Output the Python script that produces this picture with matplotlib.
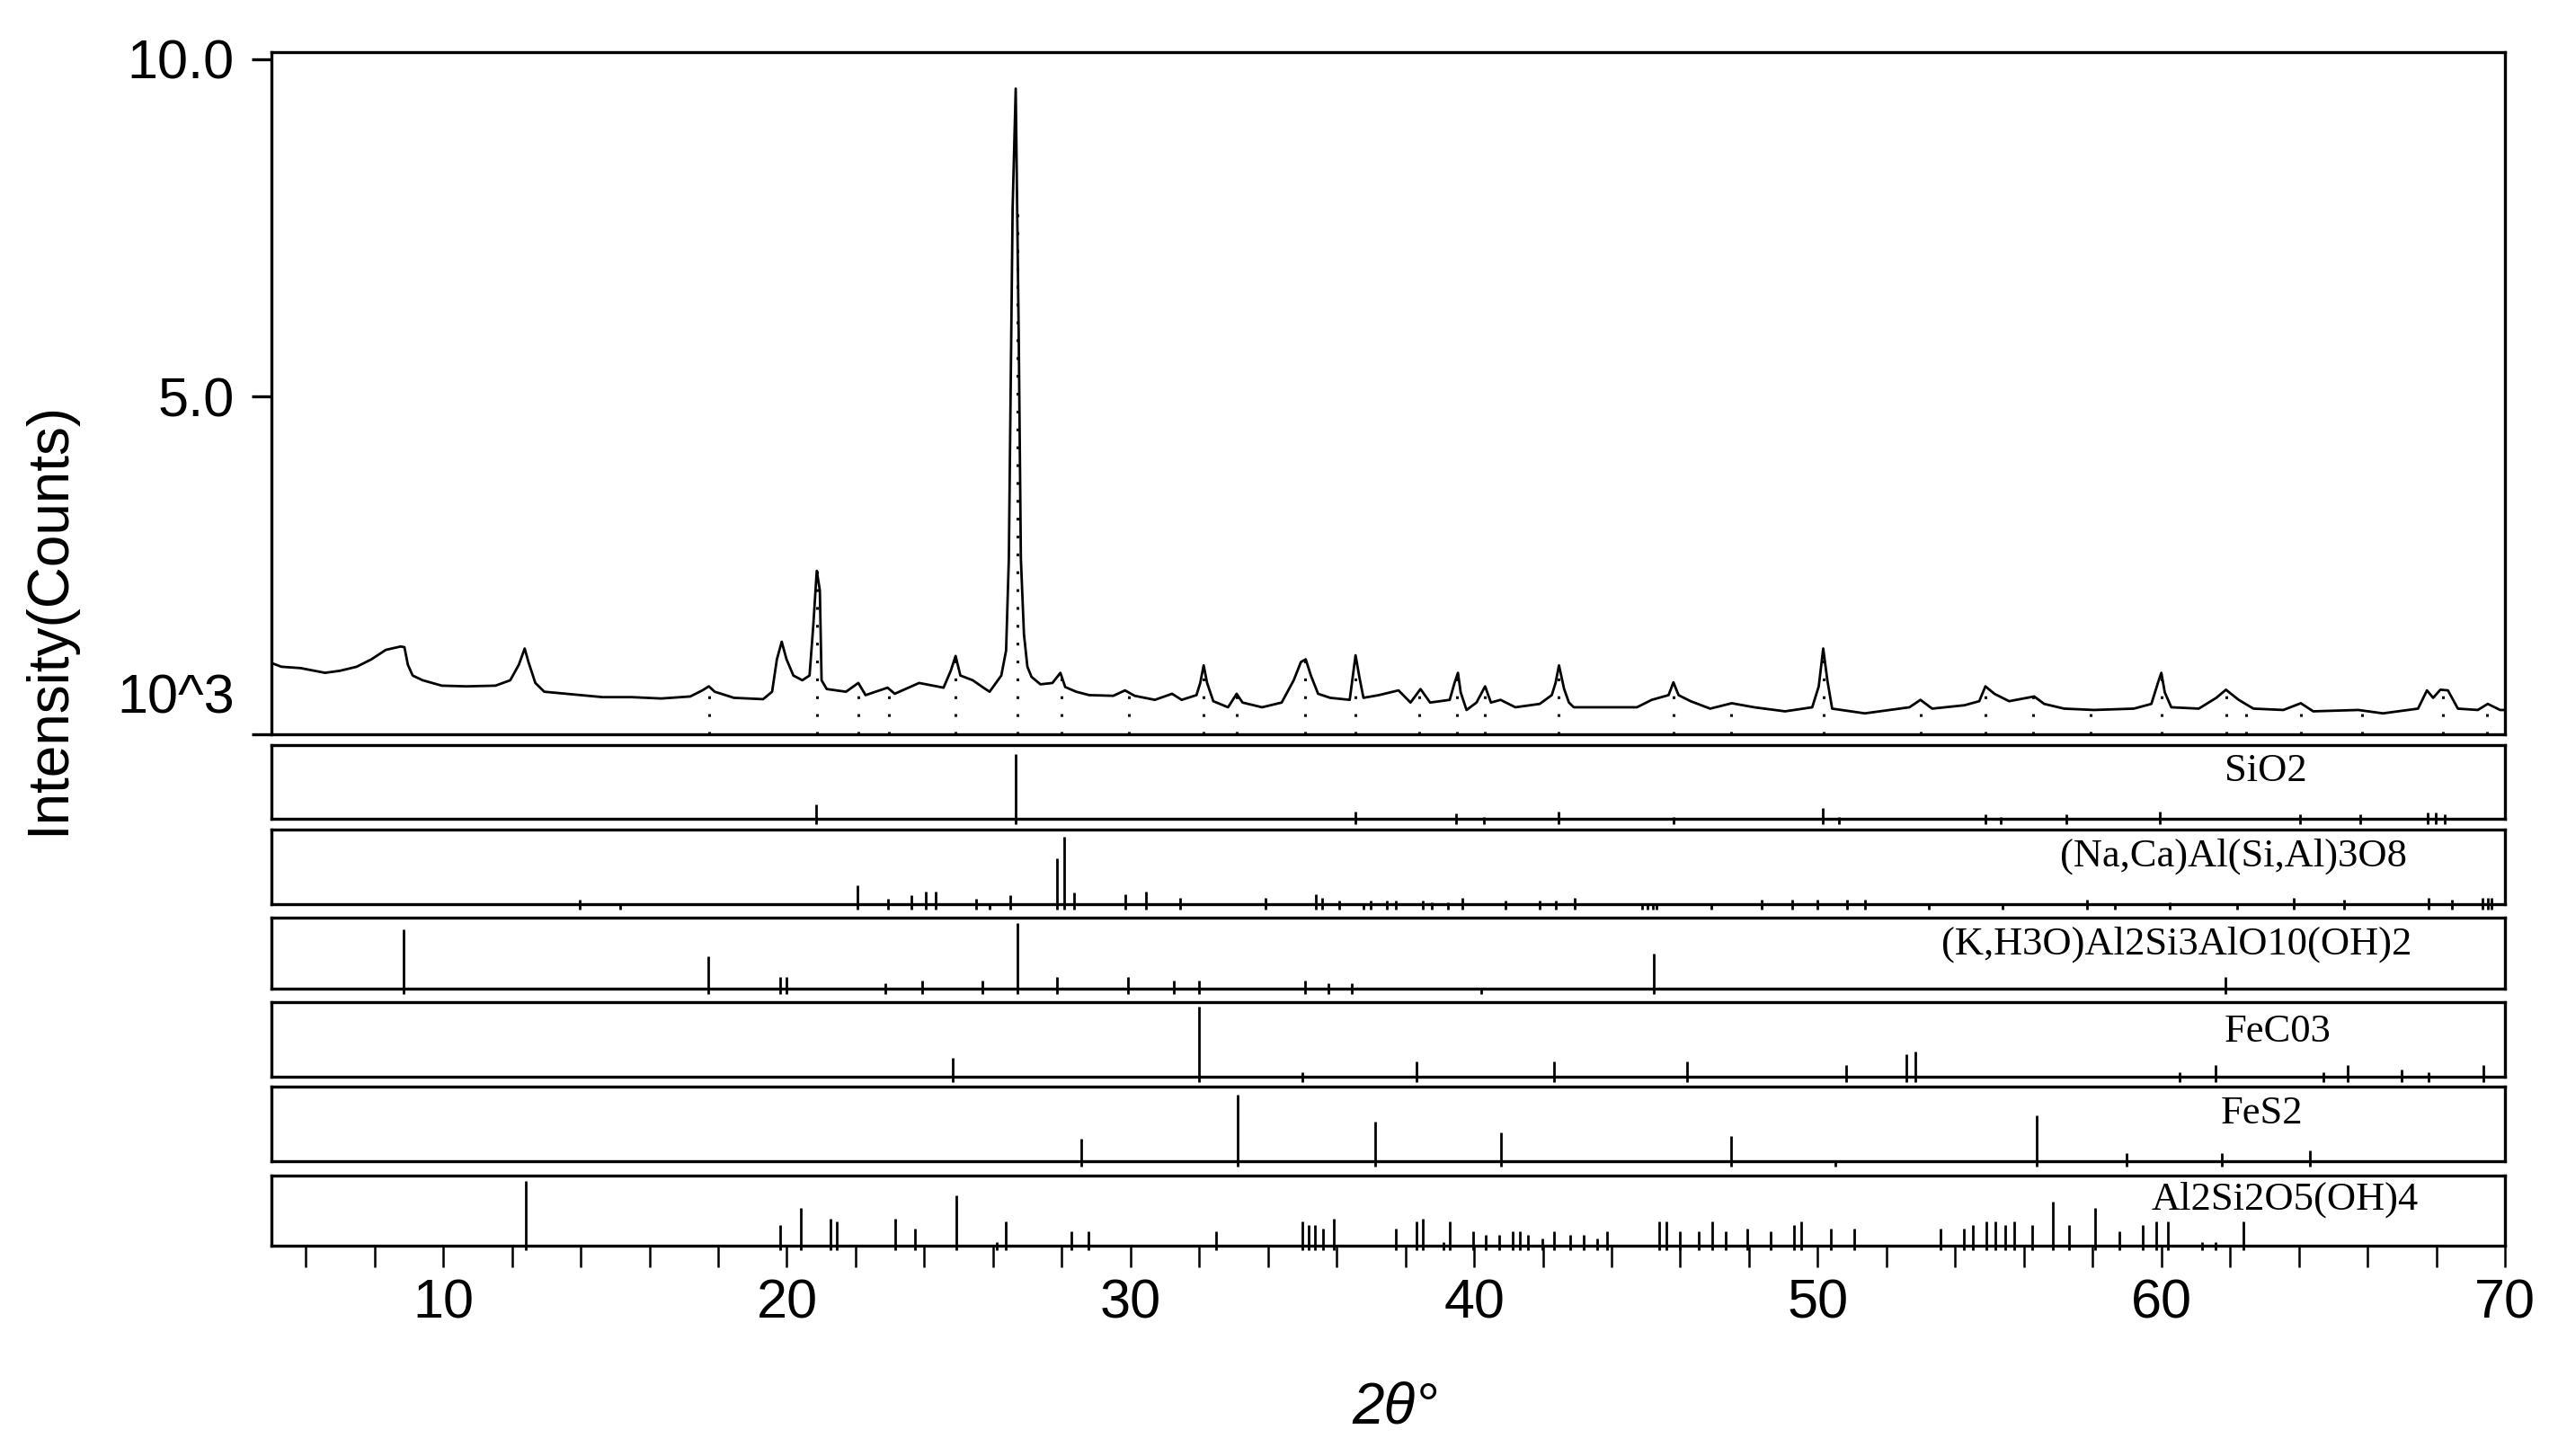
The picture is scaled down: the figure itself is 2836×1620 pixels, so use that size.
import matplotlib
matplotlib.use('Agg')
import matplotlib.pyplot as plt
import numpy as np

plt.rcParams['font.family'] = ['Liberation Sans', 'DejaVu Sans']

# measured pattern (2theta, intensity x10^3 counts)
two_theta = [5.03, 5.29, 5.85, 6.56, 6.99, 7.48, 7.91, 8.33, 8.76, 8.87, 8.97, 9.11, 9.40, 9.96,
             10.67, 11.52, 11.95, 12.20, 12.37, 12.48, 12.68, 12.94, 13.79, 14.64, 15.49, 16.34,
             17.19, 17.54, 17.73, 17.90, 18.46, 19.31, 19.57, 19.71, 19.85, 19.99, 20.19, 20.45,
             20.66, 20.77, 20.87, 20.96, 21.01, 21.16, 21.72, 22.08, 22.29, 22.93, 23.14, 23.85,
             24.56, 24.77, 24.91, 25.05, 25.41, 25.72, 25.90, 26.24, 26.38, 26.46, 26.57, 26.66,
             26.75, 26.81, 26.90, 27.00, 27.12, 27.38, 27.73, 27.96, 28.10, 28.42, 28.80, 29.50,
             29.84, 30.12, 30.71, 31.21, 31.49, 31.92, 32.03, 32.13, 32.23, 32.41, 32.84, 33.09,
             33.26, 33.83, 34.40, 34.75, 34.96, 35.10, 35.25, 35.46, 35.81, 36.38, 36.45, 36.55,
             36.66, 36.78, 37.23, 37.80, 38.15, 38.44, 38.72, 39.29, 39.43, 39.53, 39.61, 39.78,
             40.07, 40.32, 40.49, 40.77, 41.20, 41.91, 42.26, 42.37, 42.47, 42.62, 42.76, 42.90,
             44.74, 45.17, 45.66, 45.80, 45.95, 46.30, 46.87, 47.50, 48.15, 49.05, 49.84, 50.03,
             50.16, 50.28, 50.42, 51.37, 52.67, 52.99, 53.33, 54.27, 54.70, 54.88, 55.14, 55.57,
             56.30, 56.59, 57.17, 58.04, 59.20, 59.71, 59.90, 60.00, 60.10, 60.29, 61.09, 61.60,
             61.88, 62.25, 62.68, 63.55, 64.06, 64.42, 65.73, 66.45, 67.47, 67.73, 67.91, 68.12,
             68.34, 68.63, 69.21, 69.50, 69.86, 70.00]
intensity = [1.05, 1.00, 0.98, 0.91, 0.94, 1.00, 1.11, 1.25, 1.30, 1.29, 1.03, 0.87, 0.80, 0.72,
             0.71, 0.72, 0.80, 1.03, 1.27, 1.07, 0.76, 0.63, 0.59, 0.55, 0.55, 0.53,
             0.56, 0.65, 0.71, 0.63, 0.54, 0.52, 0.63, 1.11, 1.37, 1.11, 0.87, 0.80,
             0.87, 1.62, 2.42, 2.13, 0.80, 0.67, 0.63, 0.76, 0.58, 0.69, 0.60, 0.76,
             0.69, 0.94, 1.16, 0.87, 0.80, 0.69, 0.63, 0.87, 1.24, 2.60, 7.79, 9.56,
             5.79, 2.60, 1.48, 1.00, 0.85, 0.74, 0.76, 0.91, 0.70, 0.63, 0.58, 0.57,
             0.65, 0.57, 0.51, 0.60, 0.51, 0.58, 0.76, 1.02, 0.76, 0.49, 0.40, 0.60,
             0.47, 0.40, 0.47, 0.80, 1.07, 1.11, 0.87, 0.60, 0.54, 0.51, 0.78, 1.17,
             0.85, 0.54, 0.58, 0.65, 0.47, 0.67, 0.47, 0.51, 0.76, 0.91, 0.62, 0.36,
             0.47, 0.71, 0.47, 0.51, 0.40, 0.45, 0.58, 0.76, 1.02, 0.67, 0.47, 0.40,
             0.40, 0.51, 0.58, 0.77, 0.58, 0.49, 0.38, 0.46, 0.40, 0.34, 0.40, 0.71,
             1.27, 0.80, 0.38, 0.31, 0.40, 0.51, 0.38, 0.43, 0.49, 0.71, 0.60, 0.49,
             0.56, 0.45, 0.38, 0.36, 0.38, 0.45, 0.76, 0.91, 0.62, 0.40, 0.38, 0.54,
             0.66, 0.51, 0.38, 0.36, 0.46, 0.34, 0.36, 0.31, 0.38, 0.65, 0.54, 0.66,
             0.65, 0.38, 0.36, 0.45, 0.36, 0.36]

# identified peak positions (dotted markers)
ref_lines = [17.73, 20.87, 22.08, 22.96, 24.91, 26.70, 27.98, 29.96, 32.13, 33.09, 35.08, 36.55,
             38.41, 39.50, 40.31, 42.45, 45.80, 47.48, 50.16, 53.01, 54.88, 56.27, 57.94, 60.00,
             61.88, 62.46, 64.06, 65.83, 68.20, 69.47]

# reference stick patterns (relative intensity)
sio2_pos = [20.86, 26.66, 36.55, 39.47, 40.29, 42.45, 45.80, 50.14, 50.62, 54.87, 55.32, 57.24,
            59.96, 64.03, 65.80, 67.74, 67.99, 68.25]
sio2_int = [0.20, 0.88, 0.10, 0.07, 0.03, 0.10, 0.02, 0.15, 0.03, 0.06, 0.02, 0.06,
            0.10, 0.06, 0.06, 0.08, 0.08, 0.06]

albite_pos = [13.97, 15.15, 22.05, 22.94, 23.63, 24.03, 24.33, 25.52, 25.90, 26.50,
              27.86, 28.08, 28.37, 29.84, 30.46, 31.44, 33.93, 35.40, 35.58, 36.07,
              36.78, 37.00, 37.45, 37.71, 38.52, 38.78, 39.23, 39.65, 40.91, 41.90,
              42.38, 42.94, 44.90, 45.05, 45.20, 45.30, 46.90, 48.37, 49.27, 49.98,
              50.86, 51.37, 53.24, 55.38, 57.84, 58.65, 60.25, 62.20, 63.86, 65.32,
              67.78, 68.45, 69.34, 69.50, 69.60]
albite_int = [0.06, 0.01, 0.25, 0.07, 0.12, 0.17, 0.17, 0.07, 0.01, 0.12,
              0.62, 0.90, 0.16, 0.13, 0.17, 0.08, 0.08, 0.13, 0.08, 0.05,
              0.01, 0.05, 0.05, 0.05, 0.05, 0.025, 0.025, 0.08, 0.05, 0.05,
              0.05, 0.08, 0.01, 0.01, 0.01, 0.01, 0.01, 0.055, 0.055, 0.055,
              0.055, 0.055, 0.01, 0.01, 0.055, 0.01, 0.025, 0.01, 0.08, 0.055,
              0.08, 0.055, 0.08, 0.08, 0.08]

illite_pos = [8.85, 17.72, 19.80, 19.98, 22.86, 23.93, 25.70, 26.70, 27.86, 29.92, 31.25, 32.00,
              35.07, 35.76, 36.45, 40.20, 45.22, 61.86]
illite_int = [0.83, 0.45, 0.17, 0.17, 0.07, 0.11, 0.11, 0.93, 0.17, 0.17, 0.11, 0.11,
              0.11, 0.07, 0.07, 0.01, 0.50, 0.17]

siderite_pos = [24.82, 32.00, 35.00, 38.33, 42.32, 46.19, 50.83, 52.59, 52.83, 60.52, 61.59,
                64.72, 65.43, 66.98, 67.78, 69.37]
siderite_int = [0.25, 0.94, 0.06, 0.20, 0.20, 0.20, 0.16, 0.30, 0.34, 0.06, 0.16,
                0.06, 0.16, 0.10, 0.06, 0.16]

pyrite_pos = [28.56, 33.12, 37.12, 40.78, 47.48, 50.52, 56.37, 58.99, 61.77, 64.33]
pyrite_int = [0.30, 0.89, 0.53, 0.38, 0.34, 0.01, 0.62, 0.11, 0.11, 0.15]

kaolin_pos = [12.39, 19.80, 20.40, 21.26, 21.46, 23.15, 23.73, 24.92, 26.10, 26.38,
              28.27, 28.77, 32.50, 34.99, 35.18, 35.38, 35.60, 35.93, 37.71, 38.33,
              38.51, 39.12, 39.30, 39.98, 40.33, 40.73, 41.11, 41.32, 41.58, 41.98,
              42.33, 42.79, 43.19, 43.59, 43.86, 45.38, 45.59, 45.99, 46.53, 46.93,
              47.33, 47.94, 48.64, 49.32, 49.53, 50.39, 51.05, 53.58, 54.25, 54.52,
              54.92, 55.18, 55.45, 55.72, 56.25, 56.84, 57.32, 58.06, 58.79, 59.45,
              59.85, 60.20, 61.19, 61.59, 62.40]
kaolin_int = [0.92, 0.29, 0.54, 0.39, 0.34, 0.39, 0.24, 0.72, 0.05, 0.34,
              0.20, 0.20, 0.20, 0.34, 0.29, 0.29, 0.24, 0.39, 0.24, 0.34,
              0.39, 0.05, 0.34, 0.20, 0.15, 0.15, 0.20, 0.20, 0.15, 0.10,
              0.20, 0.15, 0.15, 0.10, 0.20, 0.34, 0.34, 0.20, 0.20, 0.34,
              0.20, 0.24, 0.20, 0.29, 0.34, 0.24, 0.24, 0.24, 0.24, 0.29,
              0.34, 0.34, 0.29, 0.34, 0.29, 0.63, 0.29, 0.54, 0.20, 0.29,
              0.34, 0.34, 0.05, 0.05, 0.34]

phase_names = ['SiO2', '(Na,Ca)Al(Si,Al)3O8', '(K,H3O)Al2Si3AlO10(OH)2', 'FeC03', 'FeS2',
               'Al2Si2O5(OH)4']
phase_pos = [sio2_pos, albite_pos, illite_pos, siderite_pos, pyrite_pos, kaolin_pos]
phase_int = [sio2_int, albite_int, illite_int, siderite_int, pyrite_int, kaolin_int]

# layout in pixels of the 2836x1620 canvas
W, H = 2836, 1620
left_px, right_px = 302, 2787
main_px = (58, 817)
panel_px = [(829, 911), (923, 1006), (1021, 1100), (1115, 1198), (1209, 1292), (1308, 1386)]
label_xy = [(2521, 858), (2485, 953), (2422, 1051), (2534, 1148), (2516, 1239), (2542, 1335)]

spine_w = 2.4

fig = plt.figure(figsize=(W / 100, H / 100), dpi=100)


def add_box(top, bottom):
    a = fig.add_axes([left_px / W, 1 - bottom / H, (right_px - left_px) / W, (bottom - top) / H])
    for s in a.spines.values():
        s.set_linewidth(spine_w)
    a.set_xlim(5, 70)
    return a


ax = add_box(*main_px)
ax.plot(two_theta, intensity, color='k', lw=2.0)
ref_top = np.interp(ref_lines, two_theta, intensity)
ax.vlines(ref_lines, 0, ref_top, colors='k', lw=2.2, linestyles=(0, (1.0, 5.5)))
ax.set_ylim(0, 10.1)
ax.set_yticks([0, 5, 10])
ax.set_yticklabels(['', '5.0', '10.0'])
ax.tick_params(axis='y', direction='out', length=16, width=spine_w, pad=14, labelsize=44)
ax.tick_params(axis='x', bottom=False, labelbottom=False)
ax.annotate('10^3', xy=(0, 0), xycoords=('axes fraction', 'data'), xytext=(-41, 39),
            textcoords='offset pixels', ha='right', va='center', fontsize=44)

for i, (top, bottom) in enumerate(panel_px):
    p = add_box(top, bottom)
    p.set_ylim(0, 1)
    p.set_yticks([])
    p.vlines(phase_pos[i], -0.07, phase_int[i], colors='k', lw=2, clip_on=False)
    lx, ly = label_xy[i]
    p.text((lx - left_px) / (right_px - left_px), (bottom - ly) / (bottom - top), phase_names[i],
           transform=p.transAxes, ha='center', va='center', fontsize=32,
           family=['Liberation Serif', 'DejaVu Serif'])
    if i < len(panel_px) - 1:
        p.set_xticks([])
    else:
        p.set_xticks([10, 20, 30, 40, 50, 60, 70])
        p.set_xticks(np.arange(6, 70, 2), minor=True)
        p.tick_params(axis='x', which='both', direction='out', length=17, width=1.8,
                      pad=9, labelsize=44)

fig.text(54 / W, 1 - 688 / H, 'Intensity(Counts)', rotation=90, ha='center', va='center',
         fontsize=46)
fig.text(1552 / W, 1 - 1567 / H, '2θ°', ha='center', va='center', fontsize=46, style='italic')

fig.savefig('out.png', dpi=100)
